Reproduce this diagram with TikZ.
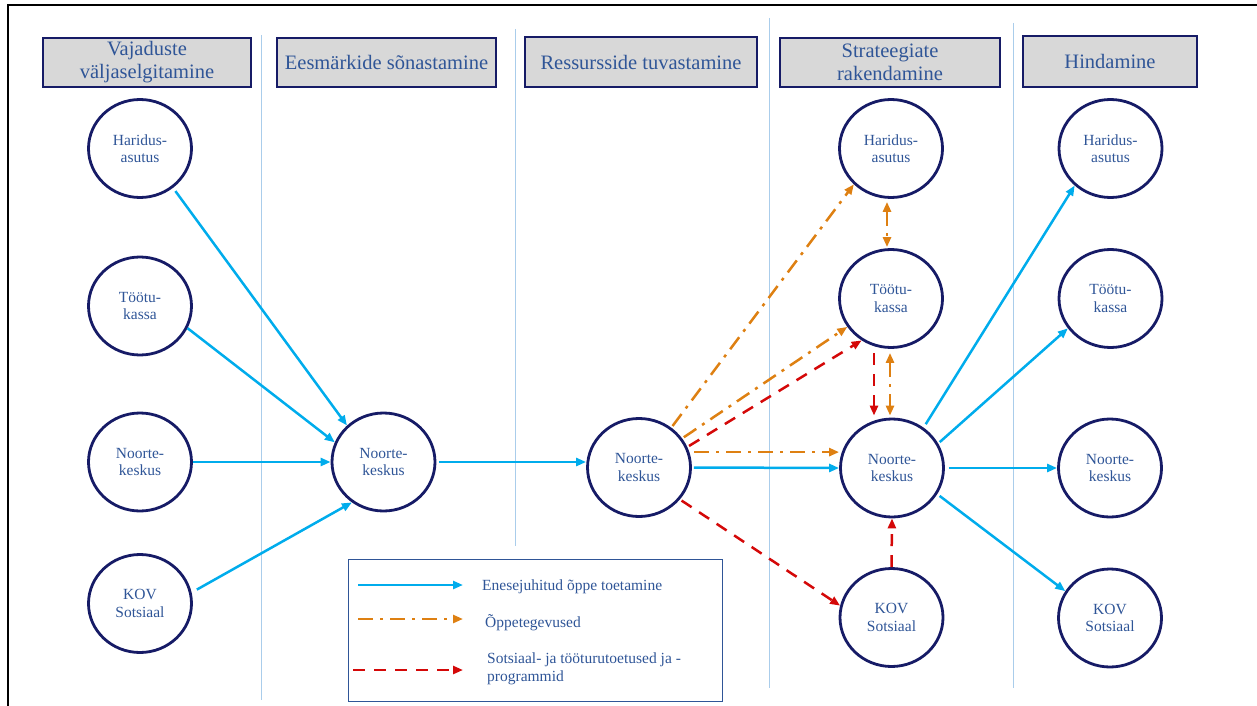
\documentclass[tikz,border=0pt]{standalone}
\usepackage{fontspec}
\setmainfont{Liberation Serif}
\usetikzlibrary{arrows.meta,shapes.geometric,calc}
\definecolor{navy}{RGB}{22,27,102}
\definecolor{tblue}{RGB}{47,85,151}
\definecolor{cyanarrow}{RGB}{0,172,236}
\definecolor{orangearrow}{RGB}{222,128,18}
\definecolor{redarrow}{RGB}{212,8,8}
\definecolor{sepblue}{RGB}{170,205,235}
\definecolor{hfill}{RGB}{216,216,216}
\begin{document}
\begin{tikzpicture}[x=1pt,y=-1pt,
  >={Triangle[length=10pt,width=8pt]},
  actor/.style={ellipse,draw=navy,line width=2.8pt,minimum width=103pt,minimum height=98pt,inner sep=0pt,text=tblue,align=center,font=\fontsize{15.5}{17.5}\selectfont},
  header/.style={draw=navy,line width=1.6pt,fill=hfill,text=tblue,align=center,font=\fontsize{20.5}{23}\selectfont,inner sep=0pt},
  sepline/.style={draw=sepblue,line width=1pt},
  flowb/.style={draw=cyanarrow,line width=2.5pt,->},
  flowo/.style={draw=orangearrow,line width=2.5pt,dash pattern=on 15pt off 7pt on 3pt off 7pt,->},
  flowr/.style={draw=redarrow,line width=2.5pt,dash pattern=on 12pt off 9pt,->},
  legtext/.style={text=tblue,font=\fontsize{15.5}{18}\selectfont,inner sep=0pt,anchor=base west}
]
\useasboundingbox (0,0) rectangle (1257,706);
% outer frame
\draw[black,line width=2pt] (8,720) -- (8,5) -- (1270,5);
% separators
\draw[sepline] (261,35) -- (261,700);
\draw[sepline] (515,29) -- (515,546);
\draw[sepline] (769,18) -- (769,688);
\draw[sepline] (1013,23) -- (1013,688);
% headers
\node[header,minimum width=208.4pt,minimum height=49.4pt] (hd1) at (147,62.5) {Vajaduste\\väljaselgitamine};
\node[header,minimum width=219.4pt,minimum height=49.4pt] (hd2) at (386.5,62.5) {Eesmärkide sõnastamine};
\node[header,minimum width=232.4pt,minimum height=50.4pt] (hd3) at (641,62) {Ressursside tuvastamine};
\node[header,minimum width=220.4pt,minimum height=49.4pt] (hd4) at (890,62.5) {Strateegiate\\rakendamine};
\node[header,minimum width=174.4pt,minimum height=51.4pt] (hd5) at (1110,61.5) {Hindamine};
% column 1
\node[actor] (h1) at (140,148.5) {Haridus-\\asutus};
\node[actor] (t1) at (140,306) {Töötu-\\kassa};
\node[actor] (n1) at (140,462) {Noorte-\\keskus};
\node[actor] (k1) at (140,603.5) {KOV\\Sotsiaal};
% column 2
\node[actor] (n2) at (383.5,462) {Noorte-\\keskus};
% column 3
\node[actor] (n3) at (639,467.5) {Noorte-\\keskus};
% column 4
\node[actor] (h4) at (891,148.5) {Haridus-\\asutus};
\node[actor] (t4) at (891,298.5) {Töötu-\\kassa};
\node[actor] (n4) at (892,468) {Noorte-\\keskus};
\node[actor] (k4) at (891.5,617.5) {KOV\\Sotsiaal};
% column 5
\node[actor] (h5) at (1110.5,148.5) {Haridus-\\asutus};
\node[actor] (t5) at (1110.5,298.5) {Töötu-\\kassa};
\node[actor] (n5) at (1110,468) {Noorte-\\keskus};
\node[actor] (k5) at (1110,618) {KOV\\Sotsiaal};
% col1 -> col2
\draw[flowb,shorten <=4pt] (h1.-50) -- (n2.135);
\draw[flowb] (t1.-25) -- (n2.158);
\draw[flowb] (n1.east) -- (n2.west);
\draw[flowb,shorten <=6pt] (k1.12) -- (n2.232);
% col2 -> col3
\draw[flowb,shorten <=3pt] (n2.east) -- (n2.east -| n3.west);
% col3 -> col4
\draw[flowb,shorten <=2pt] (n3.east) -- (n4.west);
\draw[flowo] ([xshift=5pt]n3.17) -- (n3.17 -| n4.west);
\draw[flowo,shorten <=2pt] (n3.51) -- (h4.224);
\draw[flowo,shorten <=2pt] (n3.34.5) -- (t4.213.5);
\draw[flowr,shorten <=2pt] (n3.23.7) -- (t4.235);
\draw[flowr,shorten <=2pt] (n3.-38) -- (k4.167);
% inside col4
\draw[flowo,<->] ([xshift=-4pt,yshift=-3pt]h4.south) -- ([xshift=-4pt,yshift=1pt]t4.north);
\draw[flowo,<->] ([xshift=-1pt,yshift=-4pt]t4.south) -- ([xshift=-2pt,yshift=2pt]n4.north);
\draw[flowr] ([xshift=-17pt,yshift=-4.5pt]t4.south) -- ([xshift=-18pt,yshift=2pt]n4.north);
\draw[flowr] (k4.north) -- (n4.south);
% col4 -> col5
\draw[flowb,shorten <=4pt] (n4.52) -- (h5.226);
\draw[flowb,shorten <=2pt] (n4.28) -- (t5.215.5);
\draw[flowb,shorten <=4pt] (n4.east) -- (n5.west);
\draw[flowb,shorten <=3pt] (n4.-30) -- (k5.149);
% legend
\node[draw=tblue,line width=1.3pt,minimum width=373.7pt,minimum height=141.7pt,inner sep=0pt] (legend) at (535.5,630.5) {};
\coordinate (la1) at (358,585);
\coordinate (lb1) at (463,585);
\coordinate (la2) at (358,619);
\coordinate (lb2) at (463,619);
\coordinate (la3) at (353,670);
\coordinate (lb3) at (463,670);
\draw[flowb] (la1) -- (lb1);
\draw[flowo] (la2) -- (lb2);
\draw[flowr] (la3) -- (lb3);
\node[legtext] (lt1) at (482,590) {Enesejuhitud õppe toetamine};
\node[legtext] (lt2) at (485,627) {Õppetegevused};
\node[legtext] (lt3) at (487,663) {Sotsiaal- ja tööturutoetused ja -};
\node[legtext] (lt4) at (487,681) {programmid};
\end{tikzpicture}
\end{document}
